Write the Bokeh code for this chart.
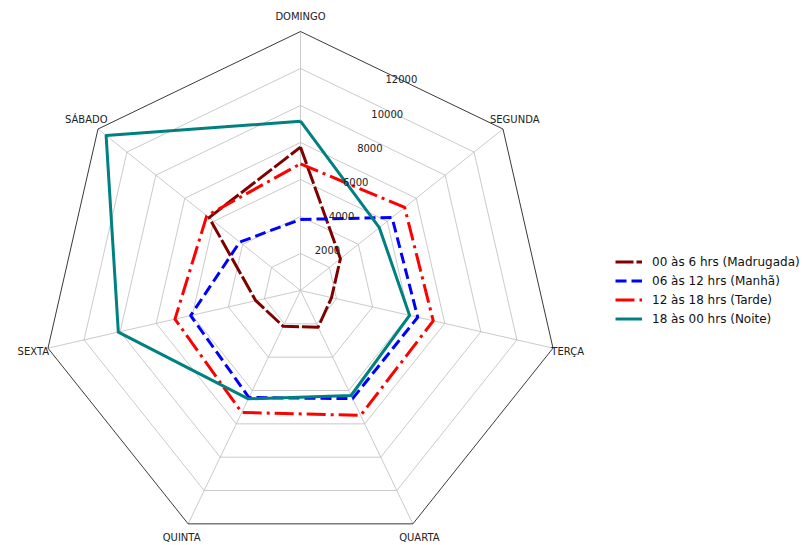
import numpy as np
from bokeh.plotting import figure
from bokeh.models import Range1d, Legend, LegendItem
from bokeh.core.properties import value
from bokeh.embed import file_html
from bokeh.resources import INLINE

# ---- data ----
days = ["DOMINGO", "SEGUNDA", "TERÇA", "QUARTA", "QUINTA", "SEXTA", "SÁBADO"]
madrugada = [7750, 2760, 1720, 2200, 2150, 2480, 6320]
manha = [3840, 6330, 6500, 6490, 6420, 6090, 4200]
tarde = [6850, 7200, 7360, 7490, 7320, 6960, 6480]
noite = [9150, 5450, 6050, 6300, 6500, 10100, 13440]
series_labels = ["00 às 6 hrs (Madrugada)", "06 às 12 hrs (Manhã)",
                 "12 às 18 hrs (Tarde)", "18 às 00 hrs (Noite)"]
r_ticks = [2000, 4000, 6000, 8000, 10000, 12000]
r_max = 14000

# ---- geometry / style ----
W, H = 805, 545
CX, CY = 300, 290          # centre, in canvas pixels from top-left
RPX = 259                  # pixel radius of outer frame
S = r_max / RPX            # data units per pixel
FONT = "DejaVu Sans"

p = figure(width=W, height=H, output_backend="svg", toolbar_location=None,
           x_range=Range1d(-CX * S, (W - CX) * S),
           y_range=Range1d(-(H - CY) * S, CY * S),
           x_axis_location=None, y_axis_location=None,
           min_border=0, title=None)
p.grid.visible = False
p.outline_line_color = None
p.background_fill_color = "white"
p.border_fill_color = "white"

n = len(days)
theta = np.arange(n) * 2 * np.pi / n
sx, sy = np.sin(theta), np.cos(theta)

def closed(vals):
    v = np.asarray(vals, dtype=float)
    xs = v * sx
    ys = v * sy
    return list(np.append(xs, xs[0])), list(np.append(ys, ys[0]))

# grid rings
gx, gy = [], []
for t in r_ticks:
    xs, ys = closed([t] * n)
    gx.append(xs)
    gy.append(ys)
# spokes
for i in range(n):
    gx.append([0, r_max * sx[i]])
    gy.append([0, r_max * sy[i]])
p.multi_line(gx, gy, line_color="#bdbdbd", line_width=0.8)

# outer frame
fx, fy = closed([r_max] * n)
p.line(fx, fy, line_color="#222222", line_width=0.9)

# series
styles = [
    dict(line_color="#800000", line_dash="18 3"),
    dict(line_color="#0000ff", line_dash="11 5"),
    dict(line_color="#ff0000", line_dash="19 5 3 5"),
    dict(line_color="#008080", line_dash="solid"),
]
renderers = []
for vals, st in zip([madrugada, manha, tarde, noite], styles):
    xs, ys = closed(vals)
    r = p.line(xs, ys, line_width=3, line_join="round", **st)
    renderers.append(r)

# radial tick labels (22.5 deg clockwise from top)
ang = np.deg2rad(22.5)
p.text(x=[t * np.sin(ang) for t in r_ticks], y=[t * np.cos(ang) for t in r_ticks],
       text=[str(t) for t in r_ticks], text_align="left", text_baseline="bottom",
       y_offset=-2,
       text_font=value(FONT), text_font_size="10px", text_color="#222222")

# axis (day) labels
lab_r = r_max * (RPX + 15) / RPX
p.text(x=list(lab_r * sx), y=list(lab_r * sy), text=days,
       text_align="center", text_baseline="middle",
       text_font=value(FONT), text_font_size="10px", text_color="#222222")

legend = Legend(items=[LegendItem(label=l, renderers=[r]) for l, r in zip(series_labels, renderers)],
                location=(615, 218), orientation="vertical",
                padding=0, margin=0, spacing=2,
                glyph_width=27, glyph_height=17, label_height=17,
                label_standoff=10,
                label_text_font=FONT, label_text_font_size="12px",
                label_text_color="#111111",
                border_line_alpha=0, background_fill_alpha=0)
p.add_layout(legend)

open("out.html", "w").write(file_html(p, INLINE))
